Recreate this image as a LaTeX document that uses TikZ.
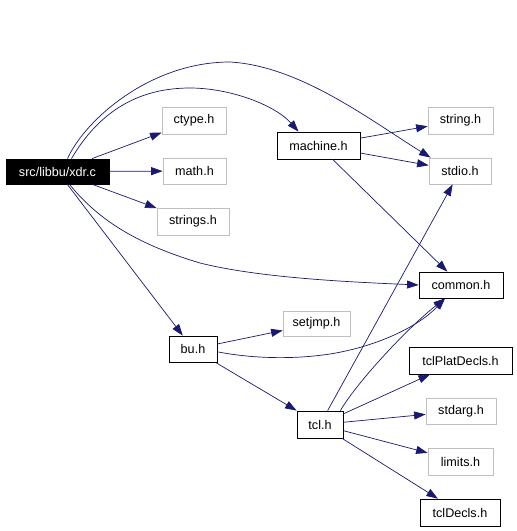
\documentclass[tikz,border=0pt]{standalone}
\usepackage{fontspec}
\setmainfont{Liberation Sans}
\usetikzlibrary{arrows.meta,calc}
\definecolor{edgec}{HTML}{191970}
\definecolor{grayb}{HTML}{BFBFBF}
\begin{document}
\begin{tikzpicture}[x=1pt,y=-1pt,
  box/.style={draw=black, line width=0.8pt, fill=white, inner sep=0pt, font=\fontsize{12.6}{14}\selectfont},
  sysbox/.style={box, draw=grayb},
  mainbox/.style={box, fill=black, text=white},
  dep/.style={draw=edgec, line width=0.7pt, -{Triangle[length=11.5pt,width=8pt]}}]
\useasboundingbox[fill=white] (0,0) rectangle (517,531);
\node[mainbox, minimum width=103pt, minimum height=25pt] (xdr) at (57.5,171.5) {src/libbu/xdr.c};
\node[sysbox, minimum width=64pt, minimum height=27pt] (ctype) at (194,120.5) {ctype.h};
\node[sysbox, minimum width=63pt, minimum height=26pt] (math) at (194.5,171) {math.h};
\node[sysbox, minimum width=72pt, minimum height=27pt] (strings) at (193,221.5) {strings.h};
\node[box, minimum width=83pt, minimum height=27pt] (machine) at (318.5,145.5) {machine.h};
\node[sysbox, minimum width=65pt, minimum height=27pt] (string) at (460.5,120.5) {string.h};
\node[sysbox, minimum width=62pt, minimum height=26pt] (stdio) at (460,171) {stdio.h};
\node[box, minimum width=84pt, minimum height=26pt] (common) at (461,285) {common.h};
\node[sysbox, minimum width=67pt, minimum height=25pt] (setjmp) at (316.5,323.5) {setjmp.h};
\node[box, minimum width=48pt, minimum height=26pt] (bu) at (193,349) {bu.h};
\node[box, minimum width=46pt, minimum height=27pt] (tcl) at (320,424.5) {tcl.h};
\node[box, minimum width=103pt, minimum height=27pt] (tclplat) at (460.5,360.5) {tclPlatDecls.h};
\node[sysbox, minimum width=70pt, minimum height=26pt] (stdarg) at (461,411) {stdarg.h};
\node[sysbox, minimum width=65pt, minimum height=27pt] (limits) at (460.5,461.5) {limits.h};
\node[box, minimum width=80pt, minimum height=27pt] (tcldecls) at (460,512.5) {tclDecls.h};

\draw[dep] (xdr) -- (ctype);
\draw[dep] (xdr) -- (math);
\draw[dep] (xdr) -- (strings);
\draw[dep] (xdr) -- (bu);
\draw[dep] ($(xdr.north)+(14,0)$) .. controls (100,110) and (140,88) .. (190,88)
   .. controls (230,88) and (275,105) .. ($(machine.north)+(-20,0)$);
\draw[dep] ($(xdr.north)+(10,0)$) .. controls (85,120) and (150,62) .. (230,62)
   .. controls (300,66) and (370,120) .. ($(stdio.north west)+(2,0)$);
\draw[dep] ($(xdr.south)+(12,0)$) .. controls (100,222) and (140,245) .. (200,263)
   .. controls (260,278) and (350,282) .. (common.west);
\draw[dep] (machine) -- (string);
\draw[dep] (machine) -- (stdio);
\draw[dep] (machine) -- (common);
\draw[dep] (bu) -- (setjmp);
\draw[dep] (bu) -- (tcl);
\draw[dep] ($(bu.east)+(1,3)$) .. controls (250,358) and (290,360) .. (330,354)
   .. controls (380,346) and (420,325) .. ($(common.south)+(-16,0)$);
\draw[dep] (tcl) -- (stdio);
\draw[dep] ($(tcl.north east)+(-3,0)$) .. controls (355,385) and (405,330) .. ($(common.south)+(-16,0)$);
\draw[dep] (tcl) -- (tclplat);
\draw[dep] (tcl) -- (stdarg);
\draw[dep] (tcl) -- (limits);
\draw[dep] (tcl) -- (tcldecls);
\end{tikzpicture}
\end{document}
